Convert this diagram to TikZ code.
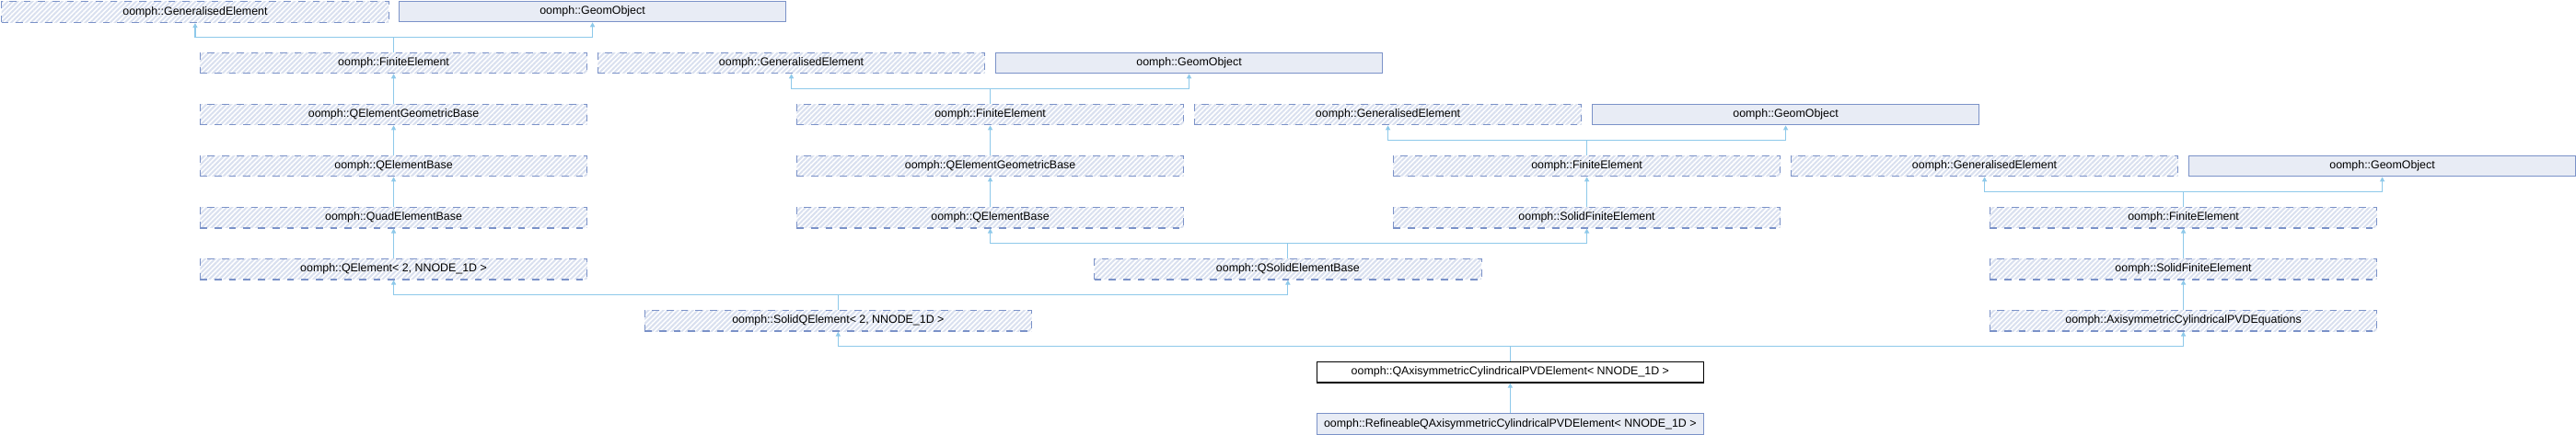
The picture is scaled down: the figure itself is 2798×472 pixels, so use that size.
\documentclass[tikz,border=0pt]{standalone}
\usepackage{fontspec}
\setmainfont{Liberation Sans}
\usetikzlibrary{arrows.meta,patterns.meta}
\definecolor{boxblue}{HTML}{7B92C8}
\definecolor{hatchblue}{HTML}{D9E0EF}
\definecolor{geomfill}{HTML}{E8ECF5}
\definecolor{edgeblue}{HTML}{8EC9EA}
\begin{document}
\begin{tikzpicture}[x=1pt,y=-1pt,
  box/.style={anchor=north west, minimum width=420.5pt, minimum height=22.6pt, inner sep=0pt,
    font=\fontsize{12.4}{14}\selectfont, line width=1.2pt},
  hatched/.style={box, draw=boxblue, dash pattern=on 7.7pt off 8pt,
    pattern={Lines[angle=45,distance=3.8pt,line width=2pt]}, pattern color=hatchblue},
  geom/.style={box, draw=boxblue, fill=geomfill},
  cur/.style={box, draw=black, fill=white},
  edge/.style={draw=edgeblue, line width=1.2pt, -{Triangle[length=5pt,width=5pt]}}]
\useasboundingbox (0,0) rectangle (2798,472);
\fill[white] (0,0) rectangle (2798,472);
\node [hatched] (ge0) at (0.7,0.5) {oomph::GeneralisedElement};
\node [geom] (go0) at (432.7,0.5) {oomph::GeomObject};
\node [hatched] (fe1) at (216.7,56.5) {oomph::FiniteElement};
\node [hatched] (ge1) at (648.7,56.5) {oomph::GeneralisedElement};
\node [geom] (go1) at (1080.7,56.5) {oomph::GeomObject};
\node [hatched] (qegb2) at (216.7,112.6) {oomph::QElementGeometricBase};
\node [hatched] (fe2) at (864.7,112.6) {oomph::FiniteElement};
\node [hatched] (ge2) at (1296.7,112.6) {oomph::GeneralisedElement};
\node [geom] (go2) at (1728.7,112.6) {oomph::GeomObject};
\node [hatched] (qeb3) at (216.7,168.6) {oomph::QElementBase};
\node [hatched] (qegb3) at (864.7,168.6) {oomph::QElementGeometricBase};
\node [hatched] (fe3) at (1512.7,168.6) {oomph::FiniteElement};
\node [hatched] (ge3) at (1944.7,168.6) {oomph::GeneralisedElement};
\node [geom] (go3) at (2376.7,168.6) {oomph::GeomObject};
\node [hatched] (quad4) at (216.7,224.7) {oomph::QuadElementBase};
\node [hatched] (qeb4) at (864.7,224.7) {oomph::QElementBase};
\node [hatched] (sfe4) at (1512.7,224.7) {oomph::SolidFiniteElement};
\node [hatched] (fe4) at (2160.7,224.7) {oomph::FiniteElement};
\node [hatched] (qel5) at (216.7,280.7) {oomph::QElement< 2, NNODE\_1D >};
\node [hatched] (qseb5) at (1188,280.7) {oomph::QSolidElementBase};
\node [hatched] (sfe5) at (2160.7,280.7) {oomph::SolidFiniteElement};
\node [hatched] (sqel6) at (699.5,336.8) {oomph::SolidQElement< 2, NNODE\_1D >};
\node [hatched] (pvdeq6) at (2160.7,336.8) {oomph::AxisymmetricCylindricalPVDEquations};
\node [cur] (qaxi7) at (1429.5,392.8) {oomph::QAxisymmetricCylindricalPVDElement< NNODE\_1D >};
\node [geom] (refqaxi8) at (1429.5,448.9) {oomph::RefineableQAxisymmetricCylindricalPVDElement< NNODE\_1D >};
\draw [edge] (fe1.north) -- ++(0,-16.4) -| (ge0.south);
\draw [edge] (fe1.north) -- ++(0,-16.4) -| (go0.south);
\draw [edge] (qegb2.north) -- (fe1.south);
\draw [edge] (fe2.north) -- ++(0,-16.4) -| (ge1.south);
\draw [edge] (fe2.north) -- ++(0,-16.4) -| (go1.south);
\draw [edge] (qeb3.north) -- (qegb2.south);
\draw [edge] (qegb3.north) -- (fe2.south);
\draw [edge] (fe3.north) -- ++(0,-16.4) -| (ge2.south);
\draw [edge] (fe3.north) -- ++(0,-16.4) -| (go2.south);
\draw [edge] (quad4.north) -- (qeb3.south);
\draw [edge] (qeb4.north) -- (qegb3.south);
\draw [edge] (sfe4.north) -- (fe3.south);
\draw [edge] (fe4.north) -- ++(0,-16.4) -| (ge3.south);
\draw [edge] (fe4.north) -- ++(0,-16.4) -| (go3.south);
\draw [edge] (qel5.north) -- (quad4.south);
\draw [edge] (qseb5.north) -- ++(0,-16.4) -| (qeb4.south);
\draw [edge] (qseb5.north) -- ++(0,-16.4) -| (sfe4.south);
\draw [edge] (sfe5.north) -- (fe4.south);
\draw [edge] (sqel6.north) -- ++(0,-16.4) -| (qel5.south);
\draw [edge] (sqel6.north) -- ++(0,-16.4) -| (qseb5.south);
\draw [edge] (pvdeq6.north) -- (sfe5.south);
\draw [edge] (qaxi7.north) -- ++(0,-16.4) -| (sqel6.south);
\draw [edge] (qaxi7.north) -- ++(0,-16.4) -| (pvdeq6.south);
\draw [edge] (refqaxi8.north) -- (qaxi7.south);
\end{tikzpicture}
\end{document}
